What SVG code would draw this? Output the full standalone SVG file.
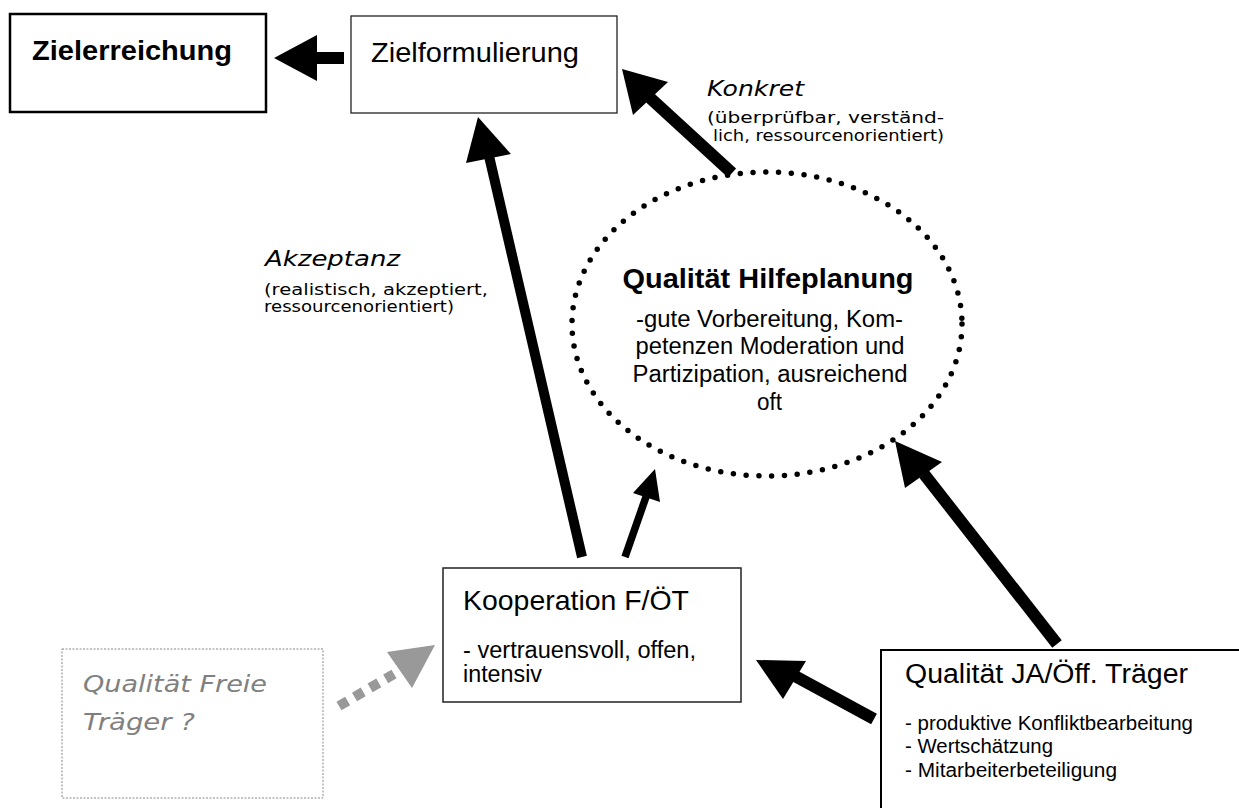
<svg xmlns="http://www.w3.org/2000/svg" width="1239" height="808" viewBox="0 0 1239 808">
<style>
.sans{font-family:"Liberation Sans",Arial,sans-serif;fill:#000}
.goth{font-family:"DejaVu Sans","Liberation Sans",sans-serif;fill:#000}
.grey{fill:#808080}
.box{fill:#fff}
.shaft{stroke:#000;fill:none}
.head{fill:#000}
</style>
<rect width="1239" height="808" fill="#fff"/>
<g id="connectors">
  <!-- Zielformulierung -> Zielerreichung -->
  <rect x="315" y="52" width="29" height="12" class="head"/>
  <polygon points="274,58 317,35 317,81" class="head"/>
  <!-- ellipse -> Zielformulierung (Konkret) -->
  <line x1="732" y1="173" x2="648" y2="96" class="shaft" stroke-width="12"/>
  <polygon points="622,69 668,82 633,115" class="head"/>
  <!-- Kooperation -> Zielformulierung (Akzeptanz) -->
  <line x1="582" y1="557" x2="489" y2="156" class="shaft" stroke-width="10"/>
  <polygon points="478,117 511,154 466,163" class="head"/>
  <!-- Kooperation -> ellipse -->
  <line x1="625" y1="557" x2="647" y2="494" class="shaft" stroke-width="7.5"/>
  <polygon points="655,469 660,502 633,493" class="head"/>
  <!-- JA -> ellipse -->
  <line x1="1057" y1="644" x2="924" y2="474" class="shaft" stroke-width="12"/>
  <polygon points="895,441 942,462 905,488" class="head"/>
  <!-- JA -> Kooperation -->
  <line x1="874" y1="719" x2="793" y2="675" class="shaft" stroke-width="12"/>
  <polygon points="756,660 806,661 783,699" class="head"/>
  <!-- Freie Traeger -> Kooperation (grey dotted) -->
  <line x1="339" y1="706" x2="394" y2="674" stroke="#999" stroke-width="10" stroke-dasharray="10 8" fill="none"/>
  <polygon points="435,645 387,652 412,688" fill="#999"/>
</g>
<g id="zielerreichung">
  <rect x="10" y="14" width="256" height="98" class="box" stroke="#000" stroke-width="2.5"/>
  <text x="32" y="60" class="sans" font-size="28" font-weight="bold" textLength="200" lengthAdjust="spacingAndGlyphs">Zielerreichung</text>
</g>
<g id="zielformulierung">
  <rect x="351" y="16" width="266" height="97" class="box" stroke="#222" stroke-width="1.3"/>
  <text x="371" y="62" class="sans" font-size="28" textLength="208" lengthAdjust="spacingAndGlyphs">Zielformulierung</text>
</g>
<g id="label-konkret">
  <text x="707" y="96" class="goth" font-size="22" font-style="italic" textLength="97" lengthAdjust="spacingAndGlyphs">Konkret</text>
  <text x="707" y="123" class="goth" font-size="16" textLength="237" lengthAdjust="spacingAndGlyphs">(überprüfbar, verständ-</text>
  <text x="713" y="141" class="goth" font-size="16" textLength="231" lengthAdjust="spacingAndGlyphs">lich, ressourcenorientiert)</text>
</g>
<g id="label-akzeptanz">
  <text x="265" y="266" class="goth" font-size="22" font-style="italic" textLength="135" lengthAdjust="spacingAndGlyphs">Akzeptanz</text>
  <text x="264" y="295" class="goth" font-size="16" textLength="224" lengthAdjust="spacingAndGlyphs">(realistisch, akzeptiert,</text>
  <text x="264" y="312" class="goth" font-size="16" textLength="190" lengthAdjust="spacingAndGlyphs">ressourcenorientiert)</text>
</g>
<g id="hilfeplanung">
  <ellipse cx="767" cy="324" rx="195" ry="152" fill="none" stroke="#000" stroke-width="5.5" stroke-linecap="round" stroke-dasharray="0 12.8"/>
  <text x="768" y="288" class="sans" font-size="27" font-weight="bold" text-anchor="middle" textLength="291" lengthAdjust="spacingAndGlyphs">Qualität Hilfeplanung</text>
  <text x="769.5" y="327" class="sans" font-size="23" text-anchor="middle" textLength="267" lengthAdjust="spacingAndGlyphs">-gute Vorbereitung, Kom-</text>
  <text x="770" y="354" class="sans" font-size="23" text-anchor="middle" textLength="269" lengthAdjust="spacingAndGlyphs">petenzen Moderation und</text>
  <text x="770" y="382" class="sans" font-size="23" text-anchor="middle" textLength="275" lengthAdjust="spacingAndGlyphs">Partizipation, ausreichend</text>
  <text x="769.5" y="410" class="sans" font-size="23" text-anchor="middle" textLength="25" lengthAdjust="spacingAndGlyphs">oft</text>
</g>
<g id="kooperation">
  <rect x="443" y="568" width="298" height="134" class="box" stroke="#222" stroke-width="1.5"/>
  <text x="463" y="610" class="sans" font-size="28" textLength="226" lengthAdjust="spacingAndGlyphs">Kooperation F/ÖT</text>
  <text x="463" y="658" class="sans" font-size="23" textLength="233" lengthAdjust="spacingAndGlyphs">- vertrauensvoll, offen,</text>
  <text x="463" y="682" class="sans" font-size="23" textLength="79" lengthAdjust="spacingAndGlyphs">intensiv</text>
</g>
<g id="freie-traeger">
  <rect x="62" y="649" width="261" height="149" fill="#fff" stroke="#888" stroke-width="1" stroke-dasharray="2 1.5"/>
  <text x="83" y="692" class="goth grey" font-size="23" font-style="italic" textLength="184" lengthAdjust="spacingAndGlyphs">Qualität Freie</text>
  <text x="83" y="730" class="goth grey" font-size="23" font-style="italic" textLength="112" lengthAdjust="spacingAndGlyphs">Träger ?</text>
</g>
<g id="ja-traeger">
  <rect x="881" y="650" width="400" height="200" class="box" stroke="#000" stroke-width="2"/>
  <text x="905" y="683" class="sans" font-size="27" textLength="283" lengthAdjust="spacingAndGlyphs">Qualität JA/Öff. Träger</text>
  <text x="905" y="730" class="sans" font-size="20" textLength="288" lengthAdjust="spacingAndGlyphs">- produktive Konfliktbearbeitung</text>
  <text x="905" y="753" class="sans" font-size="20" textLength="148" lengthAdjust="spacingAndGlyphs">- Wertschätzung</text>
  <text x="905" y="777" class="sans" font-size="20" textLength="212" lengthAdjust="spacingAndGlyphs">- Mitarbeiterbeteiligung</text>
</g>
</svg>
